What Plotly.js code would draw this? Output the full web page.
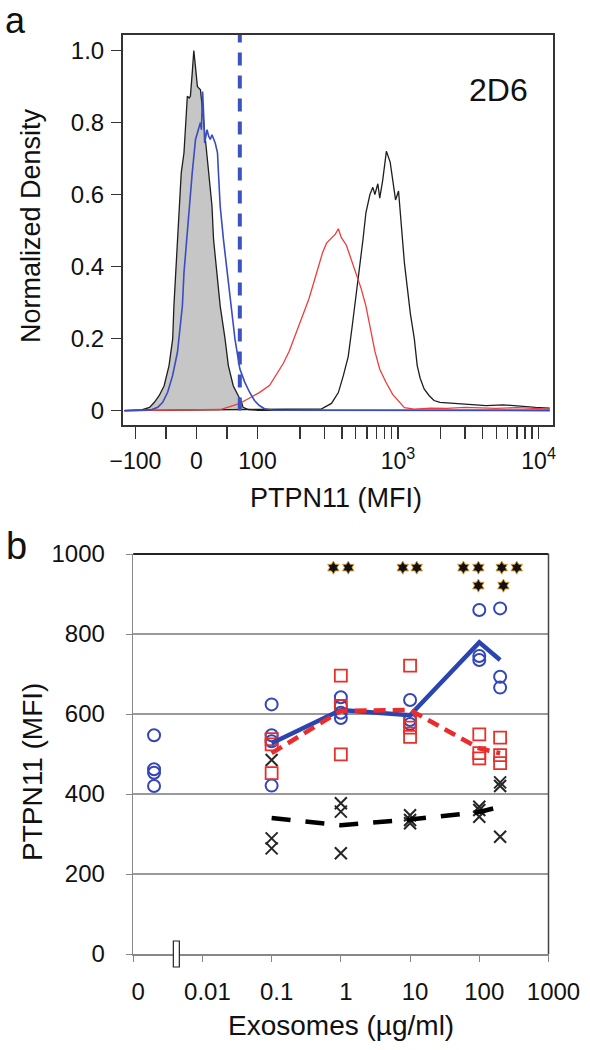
<!DOCTYPE html>
<html>
<head>
<meta charset="utf-8">
<script src="https://cdn.plot.ly/plotly-3.0.1.min.js"></script>
<style>html,body{margin:0;padding:0;background:#fff;}#chart{width:590px;height:1050px;}</style>
</head>
<body>
<div id="chart"></div>
<script>
// ---------- Panel a: flow cytometry histograms (MFI, normalized density) ----------
const isoX = [-120, -90, -77, -69, -61, -53, -45, -39, -37, -34, -31, -29, -25, -20.5, -18, -15, -12, -10, -7, -4.4, -2, 0, 1.5, 4, 6.5, 9.2, 14.5, 19.9, 25.4, 27.9, 33.4, 38.8, 46.8, 52.2, 60.2, 68.3, 73.8, 76.4, 85, 100, 200, 1000, 12000];
const isoY = [0, 0.002, 0.009, 0.023, 0.042, 0.069, 0.125, 0.199, 0.291, 0.383, 0.476, 0.568, 0.66, 0.716, 0.78, 0.873, 0.868, 0.873, 0.937, 1.0, 0.96, 0.93, 0.90, 0.895, 0.891, 0.845, 0.753, 0.66, 0.568, 0.476, 0.383, 0.291, 0.199, 0.125, 0.069, 0.042, 0.023, 0.009, 0.003, 0.001, 0.001, 0.001, 0.001];

const blueX = [-120, -75, -63.5, -55.4, -47.3, -39.2, -31.2, -27, -23.1, -20.5, -16.1, -12.4, -7, -1.6, 3.7, 6.5, 8, 10, 11.8, 13.4, 17.3, 19.9, 22.6, 25.4, 30.7, 34.4, 36, 38.8, 44.1, 50.5, 56, 63, 71, 79, 87, 95, 103, 112, 130, 12000];
const blueY = [0, 0.002, 0.009, 0.023, 0.051, 0.097, 0.162, 0.226, 0.291, 0.383, 0.476, 0.568, 0.66, 0.753, 0.789, 0.80, 0.78, 0.886, 0.82, 0.743, 0.78, 0.762, 0.753, 0.766, 0.743, 0.716, 0.66, 0.568, 0.476, 0.383, 0.291, 0.199, 0.116, 0.079, 0.051, 0.028, 0.014, 0.005, 0.001, 0];

const redX = [-120, 39, 56, 71, 87, 103, 122, 134, 152, 168, 185, 207, 232, 251, 272, 291, 310, 336, 358, 376, 395, 428, 464, 503, 545, 591, 631, 684, 741, 817, 915, 1024, 1110, 1305, 1700, 2223, 3000, 4983, 7000, 12000];
const redY = [0, 0.003, 0.012, 0.02, 0.035, 0.05, 0.07, 0.095, 0.13, 0.165, 0.21, 0.26, 0.31, 0.355, 0.40, 0.44, 0.465, 0.48, 0.49, 0.505, 0.48, 0.46, 0.42, 0.385, 0.34, 0.29, 0.235, 0.165, 0.115, 0.08, 0.045, 0.022, 0.008, 0.004, 0.007, 0.006, 0.009, 0.006, 0.008, 0.004];

const posX = [-120, 197, 286, 336, 376, 408, 442, 472, 495, 537, 563, 591, 631, 662, 684, 718, 741, 778, 826, 879, 922, 960, 1008, 1058, 1110, 1165, 1223, 1305, 1369, 1437, 1533, 1662, 1802, 1986, 2333, 3070, 4242, 5580, 7224, 9506, 12000];
const posY = [0, 0.003, 0.005, 0.02, 0.05, 0.097, 0.15, 0.235, 0.30, 0.40, 0.475, 0.55, 0.60, 0.62, 0.60, 0.63, 0.59, 0.64, 0.72, 0.69, 0.63, 0.585, 0.61, 0.50, 0.41, 0.34, 0.27, 0.20, 0.125, 0.09, 0.06, 0.042, 0.028, 0.023, 0.021, 0.019, 0.014, 0.016, 0.012, 0.009, 0.007];

const gateMFI = 71;
const mfiTicks = [-100, -50, 0, 50, 100, 200, 300, 400, 500, 600, 700, 800, 900, 1000, 2000, 3000, 4000, 5000, 6000, 7000, 8000, 9000, 10000];
const mfiLabels = {"-100": "\u2212100", "0": "0", "100": "100", "1000": "10<sup>3</sup>", "10000": "10<sup>4</sup>"};
const densTicks = [0, 0.2, 0.4, 0.6, 0.8, 1.0];
const densLabels = ["0", "0.2", "0.4", "0.6", "0.8", "1.0"];

// ---------- Panel b: PTPN11 MFI vs exosome dose ----------
const doses = [0, 0.1, 1, 10, 100, 200];
const ZERO_POS = 0.002; // where dose 0 sits on the broken log axis
const blueVals = [[547, 462, 453, 420], [624, 547, 532, 421], [642, 620, 603, 590], [635, 585, 575], [860, 745, 735], [864, 693, 666]];
const redVals  = [[], [537, 524, 452], [696, 620, 499], [721, 581, 566, 543], [549, 502, 489], [541, 497, 477]];
const blackVals = [[], [485, 289, 264], [377, 356, 252], [347, 335, 327], [368, 360, 343], [429, 420, 293]];
const meanDoses = [0.1, 1, 10, 100, 200];
const blueMean = [527, 610, 597, 779, 735];
const redMean = [502, 608, 610, 514, 502];
const blackMean = [340, 322, 336, 355, 368];
const starX = [0.78, 1.28, 7.84, 12.5, 58.9, 97, 211, 348, 97, 223];
const starY = [966, 966, 966, 966, 966, 966, 966, 966, 921, 921];
const doseTicks = [0.001, 0.01, 0.1, 1, 10, 100, 1000];
const doseLabels = ["0", "0.01", "0.1", "1", "10", "100", "1000"];
const mfiAxisTicks = [0, 200, 400, 600, 800, 1000];
const BREAK_AT = 0.0042;

// biexponential-like display transform: linear to 100, log above
function toU(x) {
  const L = 100;
  if (Math.abs(x) <= L) return x / (L * Math.LN10);
  return Math.sign(x) * (1 / Math.LN10 + Math.log10(Math.abs(x) / L));
}
function flat(vals) {
  const xs = [], ys = [];
  vals.forEach((arr, i) => arr.forEach(v => { xs.push(doses[i] === 0 ? ZERO_POS : doses[i]); ys.push(v); }));
  return {xs, ys};
}

const W = 590, H = 1050;
const FONT = "Liberation Sans, Arial, Helvetica, sans-serif";
const traces = [];

// Panel a traces
traces.push({x: isoX.map(toU), y: isoY, xaxis: 'x', yaxis: 'y', mode: 'lines', fill: 'tozeroy',
  fillcolor: '#c6c6c6', line: {color: '#1e1e1e', width: 1.3}});
traces.push({x: posX.map(toU), y: posY, xaxis: 'x', yaxis: 'y', mode: 'lines',
  line: {color: '#1e1e1e', width: 1.3}});
traces.push({x: redX.map(toU), y: redY, xaxis: 'x', yaxis: 'y', mode: 'lines',
  line: {color: '#f03c3c', width: 1.3}});
traces.push({x: blueX.map(toU), y: blueY, xaxis: 'x', yaxis: 'y', mode: 'lines',
  line: {color: '#3a4cbf', width: 1.6}});
traces.push({x: [toU(gateMFI), toU(gateMFI)], y: [0, 1.05], xaxis: 'x', yaxis: 'y', mode: 'lines',
  line: {color: '#3b52c2', width: 4, dash: '13px,10px'}});

// Panel b traces
const bb = flat(blueVals), rr = flat(redVals), kk = flat(blackVals);
traces.push({x: kk.xs, y: kk.ys, xaxis: 'x2', yaxis: 'y2', mode: 'markers',
  marker: {symbol: 'x-thin-open', size: 12, color: '#262626', line: {color: '#262626', width: 2}}});
traces.push({x: meanDoses, y: blackMean, xaxis: 'x2', yaxis: 'y2', mode: 'lines',
  line: {color: '#000', width: 4.5, dash: '19px,15px'}});
traces.push({x: bb.xs, y: bb.ys, xaxis: 'x2', yaxis: 'y2', mode: 'markers',
  marker: {symbol: 'circle-open', size: 12, color: '#3446b8', line: {color: '#3446b8', width: 2}}});
traces.push({x: rr.xs, y: rr.ys, xaxis: 'x2', yaxis: 'y2', mode: 'markers',
  marker: {symbol: 'square-open', size: 12, color: '#e8302b', line: {color: '#e8302b', width: 1.8}}});
traces.push({x: meanDoses, y: blueMean, xaxis: 'x2', yaxis: 'y2', mode: 'lines',
  line: {color: '#2a45b2', width: 4.5}});
traces.push({x: meanDoses, y: redMean, xaxis: 'x2', yaxis: 'y2', mode: 'lines',
  line: {color: '#ee2b2b', width: 4.5, dash: '12px,7px'}});
traces.push({x: starX, y: starY, xaxis: 'x2', yaxis: 'y2', mode: 'markers',
  marker: {symbol: 'hexagram', size: 10, color: '#111', line: {color: '#d9a040', width: 1}}});

const ann = (text, xpx, ypx, size, angle) => ({
  text, x: xpx / W, y: 1 - ypx / H, xref: 'paper', yref: 'paper', showarrow: false,
  xanchor: 'center', yanchor: 'middle', textangle: angle || 0,
  font: {family: FONT, size, color: '#111'}
});

const breakFrac = (Math.log10(BREAK_AT) + 3) / 6;

const layout = {
  width: W, height: H, margin: {l: 0, r: 0, t: 0, b: 0},
  paper_bgcolor: '#fff', plot_bgcolor: '#fff', showlegend: false,
  font: {family: FONT, color: '#111'},
  xaxis: {domain: [123 / W, 553 / W], range: [-0.523, 2.537], anchor: 'y',
    tickmode: 'array', tickvals: mfiTicks.map(toU),
    ticktext: mfiTicks.map(t => mfiLabels[String(t)] || ''),
    ticks: 'outside', ticklen: 12, tickwidth: 1.5, tickcolor: '#333', ticklabelstandoff: 2,
    showline: true, mirror: true, linecolor: '#333', linewidth: 2,
    showgrid: false, zeroline: false, tickfont: {size: 23, family: FONT, color: '#111'}},
  yaxis: {domain: [(H - 425) / H, (H - 35) / H], range: [-0.04, 1.043], anchor: 'x',
    tickmode: 'array', tickvals: densTicks, ticktext: densLabels,
    ticks: 'outside', ticklen: 10, tickwidth: 1.5, tickcolor: '#333', ticklabelstandoff: 2,
    showline: true, mirror: true, linecolor: '#333', linewidth: 2,
    showgrid: false, zeroline: false, tickfont: {size: 24, family: FONT, color: '#111'}},
  xaxis2: {domain: [133.2 / W, 548.5 / W], type: 'log', range: [-3, 3], anchor: 'y2',
    tickmode: 'array', tickvals: doseTicks, ticktext: doseLabels,
    ticks: 'outside', ticklen: 6, tickcolor: '#888', ticklabelstandoff: 10, ticklabelshift: 5,
    showline: true, linecolor: '#888', linewidth: 1.5,
    showgrid: false, zeroline: false, tickfont: {size: 24, family: FONT, color: '#111'}},
  yaxis2: {domain: [(H - 954) / H, (H - 554) / H], range: [0, 1000], anchor: 'x2',
    tickmode: 'array', tickvals: mfiAxisTicks,
    ticks: 'outside', ticklen: 6, tickcolor: '#888', ticklabelstandoff: 16,
    showline: true, linecolor: '#888', linewidth: 1.5,
    showgrid: true, gridcolor: '#9a9a9a', gridwidth: 1.2, zeroline: false,
    tickfont: {size: 24, family: FONT, color: '#111'}},
  shapes: [
    {type: 'line', xref: 'x2 domain', yref: 'y2 domain', x0: 0, x1: 1, y0: 1, y1: 1, line: {color: '#222', width: 2}},
    {type: 'line', xref: 'x2 domain', yref: 'y2 domain', x0: 1, x1: 1, y0: 0, y1: 1, line: {color: '#444', width: 1.5}},
    {type: 'rect', xref: 'x2 domain', yref: 'y2 domain', xsizemode: 'pixel', ysizemode: 'pixel',
      xanchor: breakFrac, yanchor: 0, x0: -3, x1: 3, y0: -13, y1: 13,
      fillcolor: '#fff', line: {color: '#222', width: 1.2}}
  ],
  annotations: [
    ann('a', 15, 20, 36),
    ann('2D6', 498, 90, 32),
    ann('Normalized Density', 31, 226, 27, -90),
    ann('PTPN11 (MFI)', 336, 498, 27),
    ann('b', 16, 546, 38),
    ann('PTPN11 (MFI)', 32, 772, 28, -90),
    ann('Exosomes (\u00b5g/ml)', 341, 1025, 28)
  ]
};

Plotly.newPlot('chart', traces, layout, {staticPlot: true, displayModeBar: false});
</script>
</body>
</html>
